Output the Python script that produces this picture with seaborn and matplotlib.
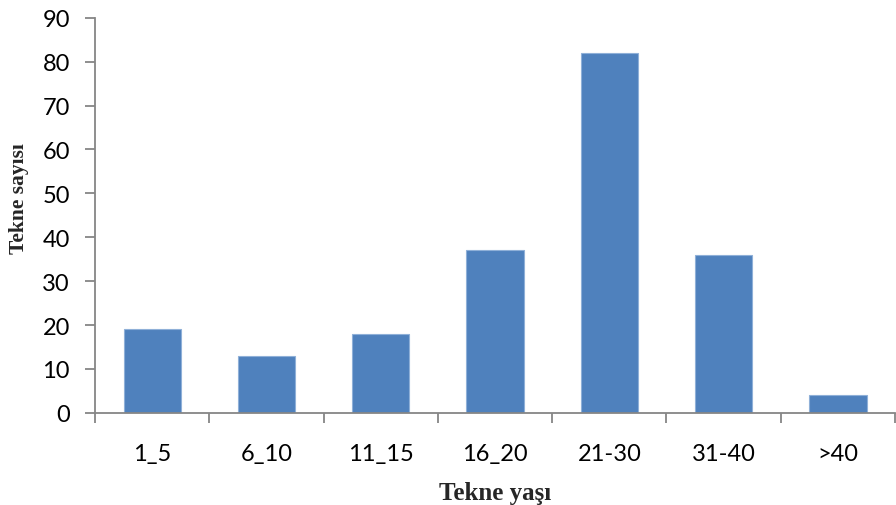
import matplotlib
matplotlib.use("Agg")
import matplotlib.pyplot as plt
import seaborn as sns
import pandas as pd
import numpy as np

categories = ["1_5", "6_10", "11_15", "16_20", "21-30", "31-40", ">40"]
values = [19, 13, 18, 37, 82, 36, 4]
yticks = [0, 10, 20, 30, 40, 50, 60, 70, 80, 90]

sns.set_theme(style="white")
plt.rcParams['font.family'] = ['Lato', 'DejaVu Sans']

df = pd.DataFrame({"cat": categories, "val": values})
fig = plt.figure(figsize=(8.96, 5.06), dpi=100)
ax = fig.add_axes([0.106, 0.182, 0.893, 0.781])
sns.barplot(data=df, x="cat", y="val", color="#4F81BD", saturation=1, width=0.5,
            edgecolor="#8FB0D8", linewidth=0.8, ax=ax)

gray = "#868686"
ax.set_xlim(-0.5, len(categories) - 0.5)
ax.set_ylim(0, 90)
ax.set_yticks(yticks)
ax.set_yticklabels([str(t) for t in yticks], fontsize=17)
ax.set_xticks(range(len(categories)))
ax.set_xticklabels(categories, fontsize=17)
ax.set_xticks(np.arange(-0.5, len(categories), 1.0), minor=True)
ax.tick_params(axis="x", which="major", length=0, pad=22, colors="black")
ax.tick_params(axis="x", which="minor", length=7, width=1.3, color=gray, direction="out", bottom=True)
ax.tick_params(axis="y", which="major", length=7, width=1.3, color=gray, direction="out", left=True, pad=11, labelcolor="black")
for s in ["top", "right"]:
    ax.spines[s].set_visible(False)
for s in ["left", "bottom"]:
    ax.spines[s].set_color(gray)
    ax.spines[s].set_linewidth(1.3)

ax.set_ylabel("Tekne sayısı", fontsize=15.5, fontweight="bold", family=["Liberation Serif"])
ax.yaxis.set_label_coords(-0.083, 0.545)
ax.set_xlabel("Tekne yaşı", fontsize=18, fontweight="bold", family=["Liberation Serif"], labelpad=12)

fig.savefig("out.png", dpi=100)
